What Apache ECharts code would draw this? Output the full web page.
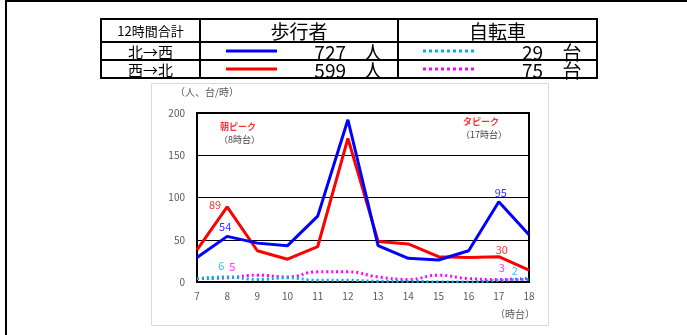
<!DOCTYPE html>
<html>
<head>
<meta charset="utf-8">
<script src="https://cdn.jsdelivr.net/npm/echarts@6/dist/echarts.min.js"></script>
<style>
  html, body { margin: 0; padding: 0; background: #fff; }
  #chart { width: 687px; height: 335px; }
</style>
</head>
<body>
<div id="chart"></div>
<script>
// 時間帯
const hours = ['7', '8', '9', '10', '11', '12', '13', '14', '15', '16', '17', '18']
// 歩行者
const pedNW = [29, 54, 46, 43, 78, 192, 43, 28, 26, 37, 95, 56]   // 北→西
const pedWN = [38, 89, 37, 27, 42, 170, 48, 45, 30, 29, 30, 14]   // 西→北
// 自転車
const bikeNW = [4, 6, 3, 5, 2, 2, 1, 1, 0, 0, 2, 3]              // 北→西
const bikeWN = [4, 5, 8, 6, 12, 12, 6, 3, 8, 4, 3, 4]            // 西→北
// 12時間合計
const directions = ['北→西', '西→北']
const pedTotals = [727, 599]
const bikeTotals = [29, 75]
const yTicks = [0, 50, 100, 150, 200]

const FONT = '"Noto Sans CJK JP", "Noto Sans", sans-serif'

// ピーク時(8時台, 17時台)だけラベルを付ける
function withLabels(values, labels) {
  return values.map((v, i) => {
    if (labels[i]) {
      return { value: v, label: Object.assign({ show: true }, labels[i]) }
    }
    return v
  })
}

const chart = echarts.init(document.getElementById('chart'))

// 表（12時間合計）
const tbl = { x0: 101, x1: 200, x2: 398, x3: 597, y0: 19, y1: 42, y2: 60, y3: 78 }
const rowMid = [(tbl.y1 + tbl.y2) / 2, (tbl.y2 + tbl.y3) / 2]
const pedColors = ['#0000ff', '#ff0000']
const bikeColors = ['#00b0f0', '#ff00ff']

const tableGraphics = [
  { type: 'rect', shape: { x: tbl.x0, y: tbl.y0, width: tbl.x3 - tbl.x0, height: tbl.y3 - tbl.y0 }, style: { fill: 'none', stroke: '#000', lineWidth: 2 } },
  { type: 'line', shape: { x1: tbl.x0, y1: tbl.y1, x2: tbl.x3, y2: tbl.y1 }, style: { stroke: '#000', lineWidth: 2 } },
  { type: 'line', shape: { x1: tbl.x0, y1: tbl.y2, x2: tbl.x3, y2: tbl.y2 }, style: { stroke: '#000', lineWidth: 2 } },
  { type: 'line', shape: { x1: tbl.x1, y1: tbl.y0, x2: tbl.x1, y2: tbl.y3 }, style: { stroke: '#000', lineWidth: 2 } },
  { type: 'line', shape: { x1: tbl.x2, y1: tbl.y0, x2: tbl.x2, y2: tbl.y3 }, style: { stroke: '#000', lineWidth: 2 } },
  { type: 'text', x: (tbl.x0 + tbl.x1) / 2, y: (tbl.y0 + tbl.y1) / 2 + 1, style: { text: '12時間合計', font: '13px ' + FONT, fill: '#000', align: 'center', verticalAlign: 'middle' } },
  { type: 'text', x: (tbl.x1 + tbl.x2) / 2, y: (tbl.y0 + tbl.y1) / 2 + 1, style: { text: '歩行者', font: '19px ' + FONT, fill: '#000', align: 'center', verticalAlign: 'middle' } },
  { type: 'text', x: (tbl.x2 + tbl.x3) / 2, y: (tbl.y0 + tbl.y1) / 2 + 1, style: { text: '自転車', font: '19px ' + FONT, fill: '#000', align: 'center', verticalAlign: 'middle' } }
]
directions.forEach((d, i) => {
  const y = rowMid[i]
  tableGraphics.push(
    { type: 'text', x: (tbl.x0 + tbl.x1) / 2, y: y + 1, style: { text: d, font: '15px ' + FONT, fill: '#000', align: 'center', verticalAlign: 'middle' } },
    { type: 'line', shape: { x1: 226, y1: y, x2: 277, y2: y }, style: { stroke: pedColors[i], lineWidth: 3 } },
    { type: 'text', x: 346, y: y + 2, style: { text: String(pedTotals[i]), font: '19px ' + FONT, fill: '#000', align: 'right', verticalAlign: 'middle' } },
    { type: 'text', x: 373, y: y + 2, style: { text: '人', font: '19px ' + FONT, fill: '#000', align: 'center', verticalAlign: 'middle' } },
    { type: 'line', shape: { x1: 423, y1: y, x2: 474, y2: y }, style: { stroke: bikeColors[i], lineWidth: 3, lineDash: [3, 3] } },
    { type: 'text', x: 543, y: y + 2, style: { text: String(bikeTotals[i]), font: '19px ' + FONT, fill: '#000', align: 'right', verticalAlign: 'middle' } },
    { type: 'text', x: 572, y: y + 2, style: { text: '台', font: '19px ' + FONT, fill: '#000', align: 'center', verticalAlign: 'middle' } }
  )
})

// 線のみ表示（点は見せずにラベルだけ出す）
const hiddenSymbol = { symbol: 'circle', symbolSize: 0.01, showSymbol: true }

const option = {
  animation: false,
  textStyle: { fontFamily: FONT },
  graphic: [
    // 外枠
    { type: 'line', shape: { x1: 6, y1: 1, x2: 687, y2: 1 }, style: { stroke: '#000', lineWidth: 2 } },
    { type: 'line', shape: { x1: 6, y1: 0, x2: 6, y2: 335 }, style: { stroke: '#000', lineWidth: 2 } },
    // グラフ枠
    { type: 'rect', shape: { x: 151.5, y: 83.5, width: 397, height: 242 }, style: { fill: 'none', stroke: '#d9d9d9', lineWidth: 1 } },
    { type: 'text', x: 175, y: 92, style: { text: '（人、台/時）', font: '10px ' + FONT, fill: '#595959', verticalAlign: 'middle' } },
    { type: 'text', x: 495, y: 314, style: { text: '（時台）', font: '10px ' + FONT, fill: '#595959', verticalAlign: 'middle' } },
    { type: 'text', x: 220, y: 127, style: { text: '朝ピーク', font: 'bold 9px ' + FONT, fill: '#ff3333', verticalAlign: 'middle' } },
    { type: 'text', x: 219, y: 140, style: { text: '（8時台）', font: '9px ' + FONT, fill: '#404040', verticalAlign: 'middle' } },
    { type: 'text', x: 463, y: 122, style: { text: 'タピーク', font: 'bold 9px ' + FONT, fill: '#ff3333', verticalAlign: 'middle' } },
    { type: 'text', x: 461, y: 135, style: { text: '（17時台）', font: '9px ' + FONT, fill: '#404040', verticalAlign: 'middle' } }
  ].concat(tableGraphics),
  grid: {
    left: 197,
    right: 158,
    top: 113,
    bottom: 53,
    show: true,
    borderColor: '#000',
    borderWidth: 2,
    containLabel: false
  },
  xAxis: {
    type: 'category',
    data: hours,
    boundaryGap: false,
    axisLine: { lineStyle: { color: '#000', width: 2 } },
    axisTick: { show: false },
    axisLabel: { color: '#595959', fontSize: 10, margin: 9 },
    splitLine: { show: false }
  },
  yAxis: {
    type: 'value',
    min: yTicks[0],
    max: yTicks[yTicks.length - 1],
    interval: 50,
    axisLine: { show: true, lineStyle: { color: '#000', width: 2 } },
    axisTick: { show: false },
    axisLabel: { color: '#595959', fontSize: 10, margin: 12 },
    splitLine: { lineStyle: { color: '#000', width: 1 } }
  },
  series: [
    Object.assign({
      name: '自転車 西→北',
      type: 'line',
      smooth: true,
      data: withLabels(bikeWN, { 1: { position: 'top', offset: [5, 0] }, 10: { position: 'top', offset: [3, -1] } }),
      lineStyle: { color: '#ff00ff', width: 3, type: [2, 3] },
      itemStyle: { color: '#ff00ff' },
      label: { color: '#ff33ff', fontSize: 11 },
      z: 3
    }, hiddenSymbol),
    Object.assign({
      name: '自転車 北→西',
      type: 'line',
      smooth: true,
      data: withLabels(bikeNW, { 1: { position: 'top', offset: [-6, -1] }, 10: { position: 'top', offset: [16, 1] } }),
      lineStyle: { color: '#00b0f0', width: 3, type: [2, 3] },
      itemStyle: { color: '#00b0f0' },
      label: { color: '#33bff5', fontSize: 11 },
      z: 3
    }, hiddenSymbol),
    Object.assign({
      name: '歩行者 西→北',
      type: 'line',
      data: withLabels(pedWN, { 1: { position: 'left', distance: 6, offset: [0, -2] }, 10: { position: 'top', offset: [3, 4] } }),
      lineStyle: { color: '#ff0000', width: 3 },
      itemStyle: { color: '#ff0000' },
      label: { color: '#ff3333', fontSize: 11 },
      z: 4
    }, hiddenSymbol),
    Object.assign({
      name: '歩行者 北→西',
      type: 'line',
      data: withLabels(pedNW, { 1: { position: 'top', offset: [-2, 1] }, 10: { position: 'top', offset: [2, 2] } }),
      lineStyle: { color: '#0000ff', width: 3 },
      itemStyle: { color: '#0000ff' },
      label: { color: '#3333ff', fontSize: 11 },
      z: 5
    }, hiddenSymbol)
  ]
}

chart.setOption(option)
</script>
</body>
</html>
